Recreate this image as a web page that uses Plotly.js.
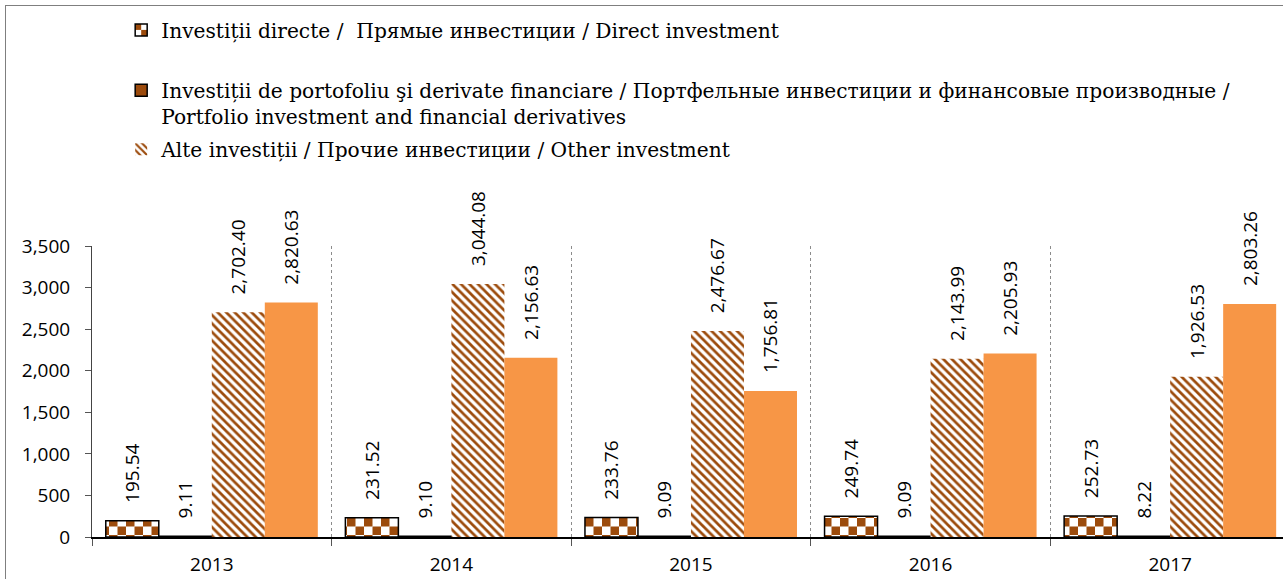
<!DOCTYPE html>
<html><head><meta charset="utf-8">
<script src="https://cdn.plot.ly/plotly-3.0.1.min.js"></script>
<style>
html,body{margin:0;padding:0;background:#fff;overflow:hidden;}
#wrap{position:relative;width:1283px;height:579px;}
#frame{position:absolute;left:5px;top:5px;width:1300px;height:600px;border-left:1.5px solid #7f7f7f;border-top:1.5px solid #7f7f7f;pointer-events:none;}
</style></head>
<body><div id="wrap"><div id="chart" style="width:1283px;height:579px;"></div><div id="frame"></div></div>
<script>
const years = ['2013','2014','2015','2016','2017'];
const directInv = [195.54, 231.52, 233.76, 249.74, 252.73];
const portfolioInv = [9.11, 9.10, 9.09, 9.09, 8.22];
const otherInv = [2702.40, 3044.08, 2476.67, 2143.99, 1926.53];
const fourthSeries = [2820.63, 2156.63, 1756.81, 2205.93, 2803.26];
const yTicks = [0, 500, 1000, 1500, 2000, 2500, 3000, 3500];

const names = [
  'Investiții directe /  Прямые инвестиции / Direct investment',
  'Investiții de portofoliu şi derivate financiare / Портфельные инвестиции и финансовые производные /<br>Portfolio investment and financial derivatives',
  'Alte investiții / Прочие инвестиции / Other investment'
];

const brown = '#9c4b0c';
const checkerKey = '#9c4b0d';
const labelFont = {family: 'Open Sans', size: 19, color: '#000'};
const tt = '\u00a0\u00a0\u00a0%{y:,.2f}';

const common = {
  type: 'bar', x: years, texttemplate: tt, textposition: 'outside',
  textangle: -90, cliponaxis: false, constraintext: 'none',
  outsidetextfont: labelFont, hoverinfo: 'skip'
};

const traces = [
  Object.assign({}, common, {y: directInv, name: names[0], legend: 'legend',
    marker: {color: 'white', line: {color: '#000', width: 1.5},
      pattern: {shape: '+', fgcolor: checkerKey, bgcolor: 'white', size: 16, solidity: 0.5}}}),
  Object.assign({}, common, {y: portfolioInv, name: names[1], legend: 'legend2',
    marker: {color: brown, line: {color: '#000', width: 1.5}}}),
  Object.assign({}, common, {y: otherInv, name: names[2], legend: 'legend3',
    marker: {color: 'white', line: {width: 0},
      pattern: {shape: '\\', fgcolor: brown, bgcolor: 'white', size: 6, solidity: 0.45}}}),
  Object.assign({}, common, {y: fourthSeries, name: '', showlegend: false,
    marker: {color: '#f79646', line: {width: 0}}})
];

const legendFont = {family: 'DejaVu Serif', size: 20.2, color: '#000'};
const legBase = {font: legendFont, bgcolor: 'rgba(0,0,0,0)', xanchor: 'left', yanchor: 'top',
  valign: 'top', itemclick: false, itemdoubleclick: false};

const layout = {
  width: 1283, height: 579,
  margin: {l: 92, r: 0, t: 246, b: 42},
  paper_bgcolor: 'white', plot_bgcolor: 'white',
  barmode: 'group', bargap: 0.115, bargroupgap: 0,
  xaxis: {type: 'category', range: [-0.5, 4.471], tickson: 'boundaries',
    ticks: 'outside', ticklen: 7, tickcolor: '#555', tickwidth: 1,
    showgrid: true, gridcolor: '#8c8c8c', griddash: 'dot', gridwidth: 1,
    showline: true, linecolor: '#000', linewidth: 1.5,
    tickfont: {family: 'Open Sans', size: 19, color: '#000'}, ticklabelstandoff: 10,
    zeroline: false, fixedrange: true},
  yaxis: {range: [0, 3500], tickvals: yTicks, tickformat: ',d',
    ticks: 'outside', ticklen: 6, tickcolor: '#555', tickwidth: 1,
    showline: true, linecolor: '#444', linewidth: 1, showgrid: false, zeroline: false,
    tickfont: {family: 'Open Sans', size: 19, color: '#000'}, ticklabelstandoff: 11,
    fixedrange: true},
  legend: Object.assign({}, legBase, {x: 0.0245, y: 1.81}),
  legend2: Object.assign({}, legBase, {x: 0.0245, y: 1.603}),
  legend3: Object.assign({}, legBase, {x: 0.0245, y: 1.4}),
  showlegend: true
};

function checkerize() {
  const pats = document.querySelectorAll('#chart pattern');
  pats.forEach(p => {
    const h = p.innerHTML.toLowerCase();
    if (h.indexOf('156, 75, 13') >= 0 || h.indexOf(checkerKey) >= 0) {
      const s = 8.5;
      p.setAttribute('width', 2 * s);
      p.setAttribute('height', 2 * s);
      p.removeAttribute('patternTransform');
      p.innerHTML = '<rect x="0" y="0" width="' + (2*s) + '" height="' + (2*s) + '" fill="#ffffff"></rect>' +
        '<rect x="0" y="0" width="' + s + '" height="' + s + '" fill="' + brown + '"></rect>' +
        '<rect x="' + s + '" y="' + s + '" width="' + s + '" height="' + s + '" fill="' + brown + '"></rect>';
    }
  });
}

Plotly.newPlot('chart', traces, layout, {displayModeBar: false, staticPlot: true}).then(checkerize);
</script>
</body></html>
